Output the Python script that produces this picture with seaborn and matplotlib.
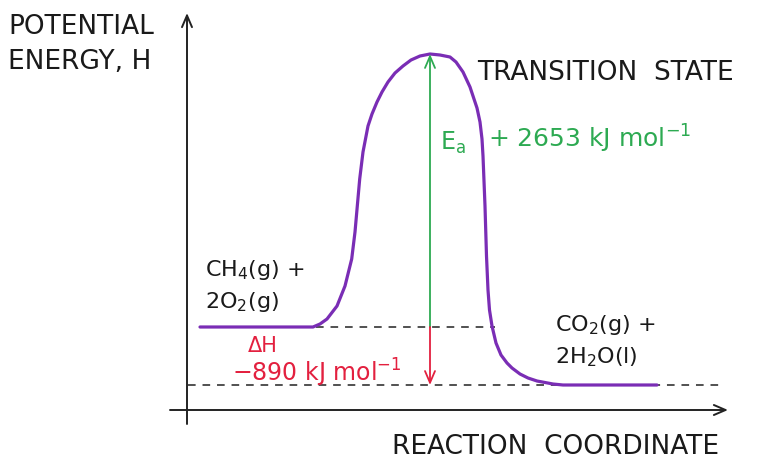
import matplotlib
matplotlib.use("Agg")
import matplotlib.pyplot as plt
import seaborn as sns
import pandas as pd

# ---- data (schematic units: reaction coordinate, potential energy H) ----
reaction_coord = [13, 126, 133, 140, 150, 158, 164.7, 168, 170.3, 172.7, 176, 181,
                  185, 190, 195, 201, 208, 216, 224, 233, 243, 253, 263, 269, 276,
                  283, 286, 290, 293, 295, 296, 298, 299.5, 301, 302.5, 305, 309, 314,
                  320, 325, 333, 341, 350, 366, 376, 470]
energy = [83, 83, 86, 91, 104, 124, 151, 178, 204, 231, 258, 284,
          296, 308, 318, 328, 337, 344, 350, 354, 356, 355, 353, 348, 338,
          323, 314, 302, 288, 271, 254, 204, 154, 120, 100, 84, 67, 55,
          47, 42, 36, 32, 29, 26, 25, 25]
reactant_H = 83
ts_H = 356
product_H = 25
ts_coord = 243
upper_dash = [129, 308]
lower_dash = [1, 535]

labels = {
    "yaxis": ["POTENTIAL", "ENERGY, H"],
    "xaxis": "REACTION  COORDINATE",
    "ts": "TRANSITION  STATE",
    "ea": "E$_{\\mathregular{a}}$",
    "ea_val": "+ 2653 kJ mol$^{\\mathregular{-1}}$",
    "dh": "ΔH",
    "dh_val": "−890 kJ mol$^{\\mathregular{-1}}$",
    "react": ["CH$_{\\mathregular{4}}$(g) +", "2O$_{\\mathregular{2}}$(g)"],
    "prod": ["CO$_{\\mathregular{2}}$(g) +", "2H$_{\\mathregular{2}}$O(l)"],
}

PURPLE = "#7A2DB5"
GREEN = "#2DAA52"
RED = "#E3203F"
TXT = "#1a1a1a"

sns.set_theme(style="white")
plt.rcParams["font.family"] = ["DejaVu Sans"]
plt.rcParams["mathtext.fontset"] = "dejavusans"

fig = plt.figure(figsize=(7.6, 4.6), dpi=100)
ax = fig.add_axes([0, 0, 1, 1])
ax.set_xlim(-187, 573)
ax.set_ylim(-49, 411)
ax.axis("off")

# dashed reference levels
ax.plot(upper_dash, [reactant_H, reactant_H], color="#222222", lw=1.1, ls=(0, (5, 4.5)))
ax.plot(lower_dash, [product_H, product_H], color="#222222", lw=1.1, ls=(0, (5, 4.5)))

# energy profile
df = pd.DataFrame({"rc": reaction_coord, "H": energy})
sns.lineplot(data=df, x="rc", y="H", sort=False, estimator=None, color=PURPLE,
             lw=2.3, ax=ax, zorder=3)
ax.lines[-1].set_solid_joinstyle("round")
ax.lines[-1].set_solid_capstyle("round")

# axes arrows
ax.annotate("", xy=(0, 397), xytext=(0, -14),
            arrowprops=dict(arrowstyle="->,head_length=0.7,head_width=0.3",
                            color="#222222", lw=1.4, shrinkA=0, shrinkB=0))
ax.annotate("", xy=(541, 0), xytext=(-17, 0),
            arrowprops=dict(arrowstyle="->,head_length=0.7,head_width=0.3",
                            color="#222222", lw=1.4, shrinkA=0, shrinkB=0))

# Ea arrow (green) and dH arrow (red)
ax.annotate("", xy=(ts_coord, ts_H), xytext=(ts_coord, reactant_H),
            arrowprops=dict(arrowstyle="->,head_length=0.7,head_width=0.3",
                            color=GREEN, lw=1.3, shrinkA=0, shrinkB=0), zorder=4)
ax.annotate("", xy=(ts_coord, product_H), xytext=(ts_coord, reactant_H),
            arrowprops=dict(arrowstyle="->,head_length=0.7,head_width=0.3",
                            color=RED, lw=1.3, shrinkA=0, shrinkB=0), zorder=4)

fs_caps = 19
fs = 16
ax.text(-179, 384, labels["yaxis"][0], fontsize=fs_caps, color=TXT, va="center", ha="left")
ax.text(-179, 349, labels["yaxis"][1], fontsize=fs_caps, color=TXT, va="center", ha="left")
ax.text(205, -36, labels["xaxis"], fontsize=fs_caps, color=TXT, va="center", ha="left")
ax.text(290, 338, labels["ts"], fontsize=fs_caps, color=TXT, va="center", ha="left")
ax.text(253, 268, labels["ea"], fontsize=fs + 1, color=GREEN, va="center", ha="left")
ax.text(301, 272, labels["ea_val"], fontsize=18, color=GREEN, va="center", ha="left")
ax.text(61, 65, labels["dh"], fontsize=15, color=RED, va="center", ha="left")
ax.text(45, 38, labels["dh_val"], fontsize=17, color=RED, va="center", ha="left")
ax.text(18, 141, labels["react"][0], fontsize=fs, color=TXT, va="center", ha="left")
ax.text(18, 109, labels["react"][1], fontsize=fs, color=TXT, va="center", ha="left")
ax.text(368, 86, labels["prod"][0], fontsize=fs, color=TXT, va="center", ha="left")
ax.text(368, 54, labels["prod"][1], fontsize=fs, color=TXT, va="center", ha="left")

fig.savefig("out.png", dpi=100)
